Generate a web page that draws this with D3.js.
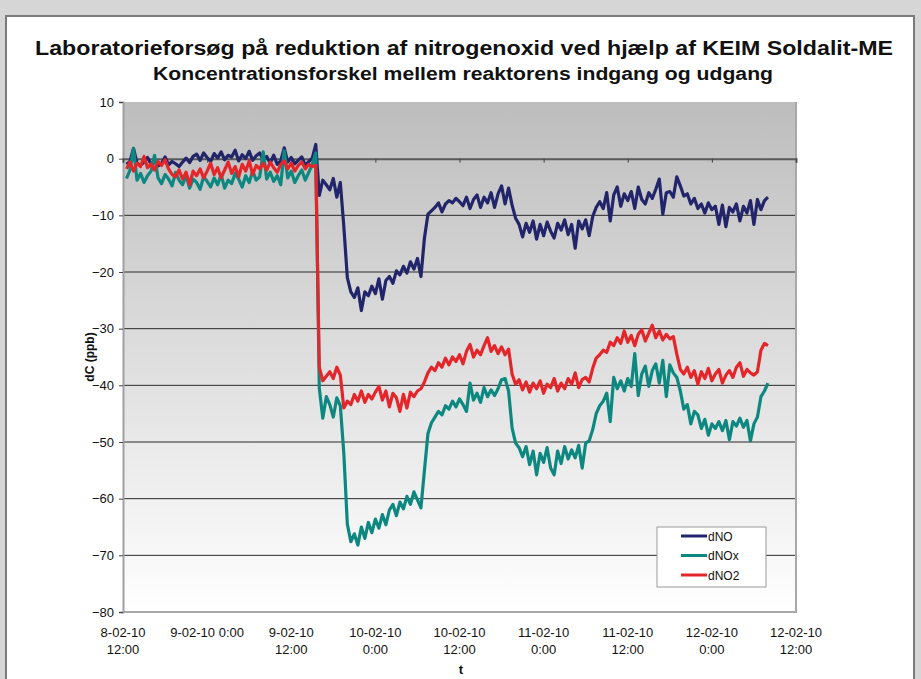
<!DOCTYPE html>
<html>
<head>
<meta charset="utf-8">
<script src="https://cdn.jsdelivr.net/npm/d3@7"></script>
<style>
  body { margin: 0; background: #d6d6d6; }
  svg { display: block; }
</style>
</head>
<body>
<div id="chart"></div>
<script>
// series: concentration difference (ppb), sampled every half hour from 8-02-10 12:30
var seriesNames = ["dNO", "dNOx", "dNO2"];
var seriesColors = ["#22256a", "#0d8880", "#e4262b"];
var startHour = 0.5, stepHours = 0.5;

var dNO = [-1.0, -0.5, 1.8, -0.8, -1.2, -0.6, 0.2, -1.0, -0.4, -1.3,
  -0.8, 0.3, -1.1, -0.5, -0.9, -1.4, -0.6, 0.1, -0.7, 0.4,
  0.8, -0.3, 1.0, 0.2, -0.5, 0.9, 0.1, 1.2, -0.2, 0.6,
  0.3, 1.5, -0.4, 0.7, 0.0, 1.3, -0.3, 0.5, 1.0, -0.2,
  0.4, -0.8, 0.6, -1.0, -0.4, 1.9, -0.6, 0.2, -0.9, -0.3,
  0.3, -1.2, -0.5, 0.1,
  2.5,
  -6.5, -3.8, -4.6, -5.5, -3.5, -6.8, -4.2,
  -12, -21, -23.5,
  -24.5, -22.8, -26.8, -23.5, -24.2, -22.5, -23.8, -21.2, -24.8, -21.5,
  -20.8, -22.0, -19.8, -20.5, -19.0, -20.2, -18.2, -19.5, -17.6, -20.8,
  -14, -9.8, -9.2,
  -8.6, -7.8, -9.4, -8.0, -7.4, -7.8, -7.0, -7.6, -8.3, -6.8, -8.8,
  -7.2, -6.4, -8.6, -6.8, -7.8, -6.0, -8.6, -6.2, -4.8, -8.0, -5.2,
  -8.2, -10.5, -11.6,
  -13.8, -11.4, -13.0, -11.0, -14.2, -11.6, -13.6, -11.2, -12.8, -14.0,
  -11.4, -12.6, -10.8, -13.4, -11.6, -15.8, -11.0, -12.4, -10.8, -13.6,
  -10.2, -8.6, -7.6,
  -8.8, -6.0, -11.0, -6.4, -5.0, -8.4, -6.2, -7.4, -5.8, -8.8, -5.0,
  -7.2, -8.0, -6.0, -7.0, -5.4, -3.6, -9.8, -6.0, -5.8, -6.8, -3.2,
  -4.8, -6.6, -6.2, -8.0, -7.0, -8.8, -8.0, -9.6, -7.8, -9.0, -8.4, -11.6, -8.2,
  -12.0, -8.6, -9.4, -8.0, -11.0, -8.4, -9.6, -7.4, -11.6, -7.2, -9.0, -7.4, -6.8];

var dNOx = [-3.5, -2.0, 1.8, -3.8, -2.6, -4.2, -3.0, -2.2, 0.6, -3.4,
  -4.4, -2.8, -3.6, -4.8, -2.4, -3.8, -4.6, -3.0, -5.2, -3.6,
  -4.2, -5.4, -3.2, -4.0, -5.0, -3.4, -4.6, -2.8, -5.2, -3.8,
  -4.4, -2.6, -3.6, -5.0, -3.0, -4.2, -2.2, -3.8, -3.2, 1.2,
  -3.6, -2.4, -4.0, -3.0, -4.6, 1.4, -3.4, -2.2, -4.2, -3.0,
  -2.0, -3.8, -2.4, -1.0,
  1.0,
  -40.5, -45.8, -42.0, -43.4, -45.6, -42.2, -43.6,
  -52, -64.5, -67.6,
  -66.2, -68.2, -65.0, -67.0, -64.2, -66.0, -63.6, -65.2, -62.8, -64.6,
  -62.0, -61.0, -63.0, -60.6, -61.8, -59.6, -61.0, -58.8, -60.2, -61.6,
  -55, -48.5, -46.6,
  -45.6, -44.6, -45.2, -43.6, -44.2, -42.8, -43.8, -42.4, -43.4, -44.6, -39.6,
  -42.6, -41.4, -43.0, -40.4, -42.0, -40.8, -41.8, -40.6, -39.0, -38.8, -41.0,
  -47.5, -50.2, -51.0,
  -52.6, -50.8, -54.0, -51.6, -55.8, -52.0, -53.6, -51.0, -54.6, -55.8,
  -51.6, -53.8, -50.8, -53.0, -51.4, -52.8, -50.6, -54.6, -50.2, -49.8,
  -47.8, -45.0, -43.6,
  -42.8, -41.4, -46.4, -38.6, -40.6, -39.2, -41.0, -38.8, -40.2, -34.4, -41.8,
  -38.0, -36.6, -40.2, -37.4, -36.2, -39.6, -35.6, -42.0, -36.4, -37.8, -38.6,
  -41.0, -44.2, -43.4, -46.8, -44.6, -45.2, -47.6, -46.0, -48.8, -46.8, -47.6, -46.4, -48.0,
  -46.2, -49.6, -46.4, -47.2, -45.8, -47.4, -46.2, -49.8, -46.8, -45.6, -42.0, -41.0, -39.6];

var dNO2 = [-1.8, -0.6, -2.2, -0.8, -1.4, 0.4, -1.6, -0.9, -2.0, -0.5,
  -1.2, -0.2, -1.8, -2.8, -3.2, -2.0, -3.6, -2.4, -4.6, -2.2,
  -3.0, -1.8, -3.4, -2.2, -0.8, -2.8, -1.6, -3.4, -2.0, -0.6,
  -2.6, -1.4, -3.2, -1.0, -2.2, -0.4, -2.8, -1.2, -1.8, -0.8,
  -2.0, -0.6, -1.6, -2.4, -1.0, -0.4, -1.8, -0.8, -2.2, -1.2,
  -0.6, -1.8, -1.0, -1.4,
  -1.2,
  -36.8, -39.2, -38.4, -37.6, -38.8, -36.8, -38.2,
  -44.0, -42.8, -43.4,
  -41.6, -42.8, -41.0, -43.0, -41.6, -42.4, -41.2, -40.2, -42.6, -41.0,
  -43.8, -41.4, -42.2, -44.6, -41.6, -44.0, -41.2, -42.0, -41.0, -40.6,
  -39.4, -37.8, -36.8,
  -37.4, -36.0, -36.8, -35.2, -36.4, -35.0, -35.8, -34.6, -36.2, -34.0, -32.8,
  -35.0, -33.8, -34.6, -33.0, -31.6, -34.0, -33.0, -34.4, -33.2, -34.6, -33.6,
  -38.0, -39.8, -39.0,
  -40.8, -39.4, -41.2, -39.6, -40.6, -39.2, -41.4, -39.8, -40.4, -38.8,
  -41.0, -39.6, -40.6, -38.8, -39.8, -37.8, -40.4, -39.0, -38.6, -39.4,
  -37.0, -35.2, -34.6,
  -33.8, -34.2, -32.4, -33.0, -31.6, -32.6, -30.4, -32.4, -31.2, -33.0, -31.0,
  -30.2, -32.2, -30.8, -29.4, -31.6, -30.4, -32.0, -31.0, -31.8, -31.4, -34.5,
  -37.2, -38.0, -36.8, -38.6, -37.4, -39.8, -37.6, -38.8, -37.0, -39.2, -38.0, -37.2, -39.6,
  -38.2, -37.4, -38.6, -36.8, -36.0, -38.4, -37.2, -37.8, -38.2, -37.6, -33.8, -32.6, -33.0];

var yTicks = [10, 0, -10, -20, -30, -40, -50, -60, -70, -80];
var xTickHours = [0, 12, 24, 36, 48, 60, 72, 84, 96];
var xTickLabels = [["8-02-10", "12:00"], ["9-02-10 0:00"], ["9-02-10", "12:00"],
  ["10-02-10", "0:00"], ["10-02-10", "12:00"], ["11-02-10", "0:00"],
  ["11-02-10", "12:00"], ["12-02-10", "0:00"], ["12-02-10", "12:00"]];

var width = 921, height = 679;
var font = "'Liberation Sans', Arial, Helvetica, sans-serif";

var svg = d3.select("#chart").append("svg")
  .attr("width", width).attr("height", height)
  .style("font-family", font);

// chart frame
svg.append("rect")
  .attr("x", 6).attr("y", 16).attr("width", 908).attr("height", 700)
  .attr("fill", "#fff").attr("stroke", "#7a7a7a").attr("stroke-width", 2);

var x = d3.scaleLinear().domain([0, 96]).range([123, 796]);
var y = d3.scaleLinear().domain([-80, 10]).range([612, 102]);

var grad = svg.append("defs").append("linearGradient")
  .attr("id", "plotBg").attr("x1", 0).attr("y1", 0).attr("x2", 0).attr("y2", 1);
grad.append("stop").attr("offset", "0%").attr("stop-color", "#bdbdbd");
grad.append("stop").attr("offset", "100%").attr("stop-color", "#ffffff");

svg.append("rect")
  .attr("x", x(0)).attr("y", y(10))
  .attr("width", x(96) - x(0)).attr("height", y(-80) - y(10))
  .attr("fill", "url(#plotBg)");

// horizontal gridlines
svg.append("g").selectAll("line")
  .data(yTicks.filter(function(d){ return d < 0 && d > -80; }))
  .enter().append("line")
  .attr("x1", x(0)).attr("x2", x(96))
  .attr("y1", function(d){ return y(d); }).attr("y2", function(d){ return y(d); })
  .attr("stroke", "#2a2a2a").attr("stroke-width", 1);

// plot border right / bottom
svg.append("path")
  .attr("d", "M" + x(96) + "," + y(10) + "V" + y(-80) + "H" + x(0))
  .attr("fill", "none").attr("stroke", "#a8a8a8").attr("stroke-width", 2);

// y axis
var yAxis = svg.append("g")
  .attr("transform", "translate(" + x(0) + ",0)")
  .call(d3.axisLeft(y).tickValues(yTicks).tickSize(4).tickPadding(5));
yAxis.select(".domain").attr("stroke", "#a0a0a0").attr("stroke-width", 2);
yAxis.selectAll(".tick line").attr("stroke", "#444");
yAxis.selectAll("text").attr("font-size", "13px").attr("fill", "#111").style("font-family", font);

// x axis crosses at 0
var xAxis = svg.append("g")
  .attr("transform", "translate(0," + y(0) + ")")
  .call(d3.axisBottom(x).tickValues(xTickHours).tickSize(4).tickFormat(""));
xAxis.select(".domain").attr("stroke", "#5a5a5a").attr("stroke-width", 2);
xAxis.selectAll(".tick line").attr("stroke", "#444");

// x labels at bottom
var xl = svg.append("g").selectAll("text")
  .data(xTickHours).enter().append("text")
  .attr("text-anchor", "middle")
  .attr("font-size", "13px").attr("fill", "#111");
xl.each(function(h, i){
  var t = d3.select(this);
  xTickLabels[i].forEach(function(s, j){
    t.append("tspan").attr("x", x(h)).attr("y", 637 + j * 17).text(s);
  });
});

// lines
var line = d3.line()
  .x(function(d, i){ return x(startHour + i * stepHours); })
  .y(function(d){ return y(d); });

[dNO, dNOx, dNO2].forEach(function(vals, k){
  svg.append("path")
    .attr("d", line(vals))
    .attr("fill", "none")
    .attr("stroke", seriesColors[k])
    .attr("stroke-width", 3.2)
    .attr("stroke-linejoin", "round");
});

// titles
svg.append("text")
  .attr("x", 464).attr("y", 55).attr("text-anchor", "middle")
  .attr("font-size", "20px").attr("font-weight", "bold").attr("fill", "#111")
  .attr("textLength", 858).attr("lengthAdjust", "spacingAndGlyphs")
  .text("Laboratorieforsøg på reduktion af nitrogenoxid ved hjælp af KEIM Soldalit-ME");
svg.append("text")
  .attr("x", 463).attr("y", 80).attr("text-anchor", "middle")
  .attr("font-size", "18px").attr("font-weight", "bold").attr("fill", "#111")
  .attr("textLength", 620).attr("lengthAdjust", "spacingAndGlyphs")
  .text("Koncentrationsforskel mellem reaktorens indgang og udgang");

svg.append("text")
  .attr("transform", "translate(94," + ((y(10) + y(-80)) / 2) + ") rotate(-90)")
  .attr("text-anchor", "middle")
  .attr("font-size", "12px").attr("font-weight", "bold").attr("fill", "#111")
  .text("dC (ppb)");

svg.append("text")
  .attr("x", 461).attr("y", 674).attr("text-anchor", "middle")
  .attr("font-size", "13px").attr("font-weight", "bold").attr("fill", "#111")
  .text("t");

// legend
var lg = svg.append("g").attr("transform", "translate(657,527)");
lg.append("rect").attr("width", 109).attr("height", 60)
  .attr("fill", "#fff").attr("stroke", "#9a9a9a").attr("stroke-width", 1);
seriesNames.forEach(function(n, k){
  var yy = 9 + k * 19.5;
  lg.append("line").attr("x1", 24).attr("x2", 50).attr("y1", yy).attr("y2", yy)
    .attr("stroke", seriesColors[k]).attr("stroke-width", 3);
  lg.append("text").attr("x", 51).attr("y", yy + 4.5)
    .attr("font-size", "12px").attr("fill", "#111").text(n);
});
</script>
</body>
</html>
